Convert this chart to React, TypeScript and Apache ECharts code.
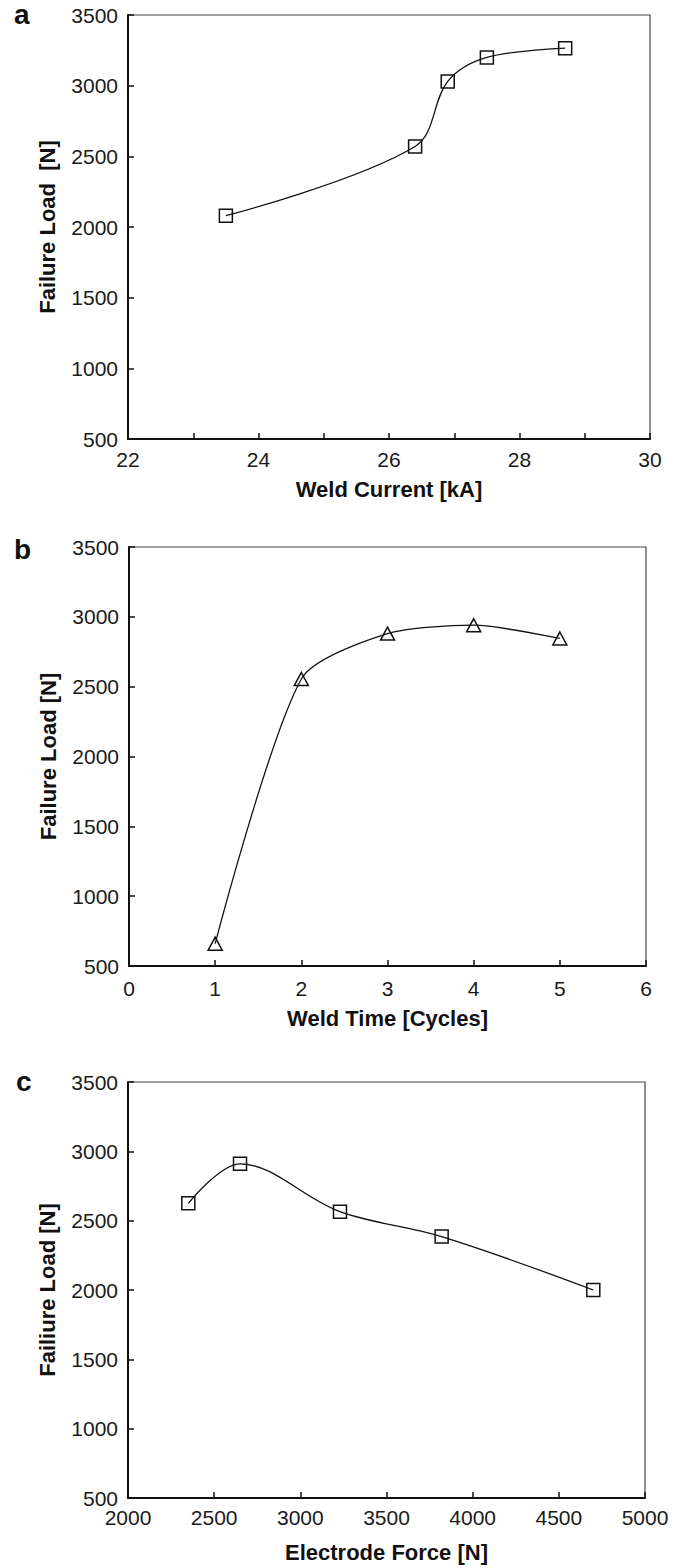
import React, { useEffect, useRef } from 'react';
import * as echarts from 'echarts';

// Panel a: weld current
const currentKA = [23.5, 26.4, 26.9, 27.5, 28.7];
const loadVsCurrent = [2080, 2570, 3030, 3200, 3265];
// Panel b: weld time
const weldCycles = [1, 2, 3, 4, 5];
const loadVsTime = [660, 2555, 2880, 2940, 2845];
// Panel c: electrode force
const electrodeForce = [2350, 2650, 3230, 3820, 4700];
const loadVsForce = [2625, 2910, 2565, 2385, 2000];

const panelLetters = ['a', 'b', 'c'];
const xTitles = ['Weld Current [kA]', 'Weld Time [Cycles]', 'Electrode Force [N]'];
const yTitles = ['Failure Load  [N]', 'Failure Load [N]', 'Failiure Load [N]'];

const FONT = "'Liberation Sans', Arial, Helvetica, sans-serif";

export default function App() {
  const ref = useRef<HTMLDivElement>(null);
  useEffect(() => {
    if (!ref.current) return;
    const chart = echarts.init(ref.current, undefined, { renderer: 'svg' });

    const grids = [
      { left: 128, top: 15, width: 522, height: 424 },
      { left: 129, top: 547, width: 517, height: 419 },
      { left: 128, top: 1082, width: 517, height: 416 },
    ];
    const xRanges = [
      { min: 22, max: 30, interval: 1, margin: 10, gap: 39 },
      { min: 0, max: 6, interval: 1, margin: 12, gap: 41 },
      { min: 2000, max: 5000, interval: 500, margin: 9, gap: 43 },
    ];
    const smoothing = [0.35, 0.25, 0.35];

    const axisCommon = {
      axisLine: { show: true, onZero: false, lineStyle: { color: '#111', width: 2 } },
      axisTick: { show: true, inside: true, length: 6, lineStyle: { color: '#111', width: 1.5 } },
      splitLine: { show: false },
      nameTextStyle: { fontFamily: FONT, fontSize: 22, fontWeight: 'bold', color: '#111' },
    };

    const xAxis = xRanges.map((r, i) => ({
      type: 'value',
      gridIndex: i,
      min: r.min,
      max: r.max,
      interval: r.interval,
      name: xTitles[i],
      nameLocation: 'middle',
      nameGap: r.gap,
      ...axisCommon,
      axisLabel: {
        margin: r.margin,
        fontFamily: FONT,
        fontSize: 21,
        color: '#1a1a1a',
        formatter: (v: number) => (i === 0 ? (v % 2 === 0 ? String(v) : '') : String(v)),
      },
    }));

    const yAxis = [0, 1, 2].map((i) => ({
      type: 'value',
      gridIndex: i,
      min: 500,
      max: 3500,
      interval: 500,
      name: yTitles[i],
      nameLocation: 'middle',
      nameGap: 70,
      nameRotate: 90,
      ...axisCommon,
      axisLabel: {
        margin: 10,
        fontFamily: FONT,
        fontSize: 21,
        color: '#1a1a1a',
        formatter: (v: number) => String(v),
      },
    }));

    const lineStyle = { color: '#111', width: 1.3 };
    const markerStyle = { color: 'rgba(255,255,255,0)', borderColor: '#111', borderWidth: 1.5 };

    const seriesData = [
      currentKA.map((x, k) => [x, loadVsCurrent[k]]),
      weldCycles.map((x, k) => [x, loadVsTime[k]]),
      electrodeForce.map((x, k) => [x, loadVsForce[k]]),
    ];
    const symbols = ['rect', 'triangle', 'rect'];
    const symbolSizes: any[] = [13, [14, 13], 13];

    const series = seriesData.map((d, i) => ({
      type: 'line',
      xAxisIndex: i,
      yAxisIndex: i,
      data: d,
      smooth: smoothing[i],
      symbol: symbols[i],
      symbolSize: symbolSizes[i],
      lineStyle,
      itemStyle: markerStyle,
    }));

    const letterPos = [
      { x: 14, y: 16 },
      { x: 14, y: 551 },
      { x: 16, y: 1083 },
    ];

    chart.setOption({
      animation: false,
      backgroundColor: '#ffffff',
      grid: grids.map((g) => ({ ...g, show: true, borderColor: '#444', borderWidth: 1.2, backgroundColor: 'transparent' })),
      xAxis,
      yAxis,
      series,
      graphic: panelLetters.map((t, i) => ({
        type: 'text',
        left: letterPos[i].x,
        top: letterPos[i].y - 16,
        style: { text: t, font: `bold 28px ${FONT}`, fill: '#111' },
      })),
    });

    return () => chart.dispose();
  }, []);

  return (
    <div
      ref={ref}
      style={{ position: 'absolute', left: 0, top: 0, width: 675, height: 1568, background: '#fff' }}
    />
  );
}
